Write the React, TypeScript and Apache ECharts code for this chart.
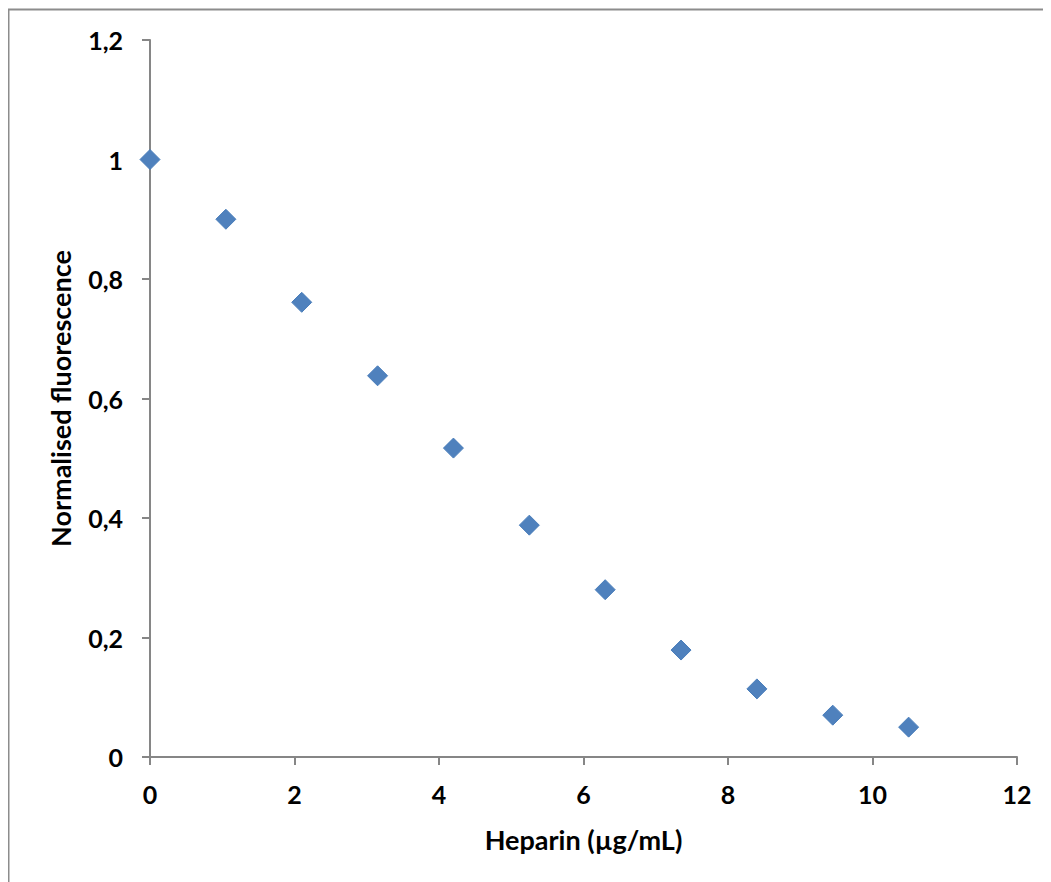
import React, { useEffect, useRef } from "react";
import * as echarts from "echarts";

const heparin = [0, 1.05, 2.1, 3.15, 4.2, 5.25, 6.3, 7.35, 8.4, 9.45, 10.5];
const fluorescence = [1.0, 0.9, 0.761, 0.638, 0.517, 0.388, 0.28, 0.179, 0.114, 0.07, 0.05];
const xTitle = "Heparin (µg/mL)";
const yTitle = "Normalised fluorescence";

const FONT = "Lato, 'Open Sans', sans-serif";

export default function App() {
  const ref = useRef<HTMLDivElement>(null);
  useEffect(() => {
    if (!ref.current) return;
    const chart = echarts.init(ref.current, undefined, { renderer: "svg" });
    const axisLine = { show: true, lineStyle: { color: "#868686", width: 2 } };
    const axisTick = { show: true, length: 8, lineStyle: { color: "#868686", width: 2 } };
    const label = {
      color: "#000",
      fontSize: 25,
      fontWeight: "bold" as const,
      fontFamily: FONT,
      formatter: (v: number) => String(Math.round(v * 10) / 10).replace(".", ","),
    };
    const titleStyle = { color: "#000", fontSize: 27, fontWeight: "bold", fontFamily: FONT };
    chart.setOption({
      animation: false,
      backgroundColor: "#fff",
      graphic: [
        {
          type: "rect",
          shape: { x: 0.5, y: 1.5, width: 1200, height: 1000 },
          style: { fill: "none", stroke: "#8c8c8c", lineWidth: 2 },
          silent: true,
        },
      ],
      grid: { left: 142, top: 32, right: 34, bottom: 125 },
      xAxis: {
        type: "value",
        min: 0,
        max: 12,
        interval: 2,
        axisLine,
        axisTick,
        splitLine: { show: false },
        axisLabel: { ...label, margin: 24 },
        name: xTitle,
        nameLocation: "middle",
        nameGap: 69,
        nameTextStyle: titleStyle,
      },
      yAxis: {
        type: "value",
        min: 0,
        max: 1.2,
        interval: 0.2,
        axisLine,
        axisTick,
        splitLine: { show: false },
        axisLabel: { ...label, margin: 27 },
        name: yTitle,
        nameLocation: "middle",
        nameGap: 76,
        nameTextStyle: titleStyle,
      },
      series: [
        {
          type: "scatter",
          symbol: "diamond",
          symbolSize: 20,
          itemStyle: { color: "#4F81BD", borderColor: "#4A7EBB", borderWidth: 1, opacity: 1 },
          data: heparin.map((x, i) => [x, fluorescence[i]]),
        },
      ],
    });
    return () => chart.dispose();
  }, []);
  return <div ref={ref} style={{ width: 1043, height: 874 }} />;
}
